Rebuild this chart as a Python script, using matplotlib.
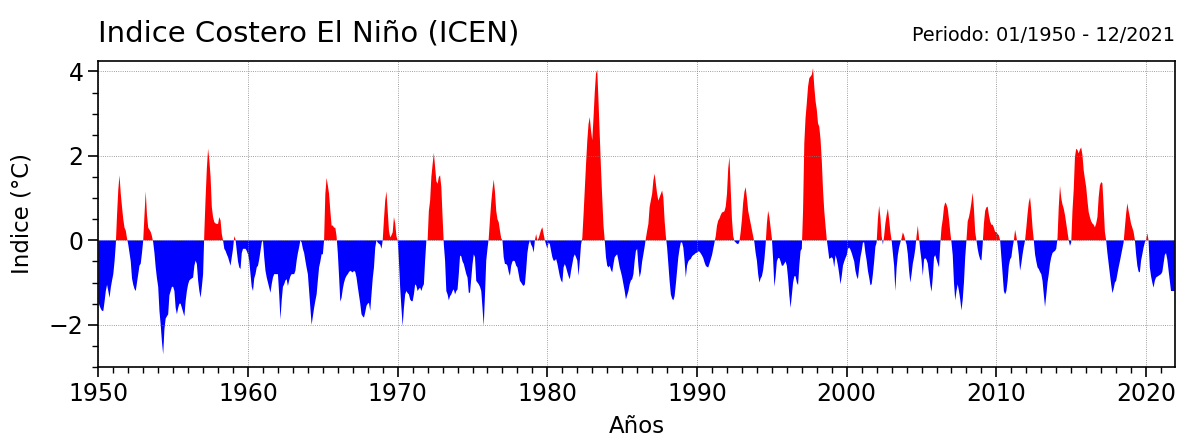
import numpy as np
import matplotlib
matplotlib.use('Agg')
import matplotlib.pyplot as plt
from matplotlib.ticker import MultipleLocator

# ICEN monthly values (Jan..Dec), one list per decade
icen_1950s = [
    -1.45, -1.55, -1.62, -1.67, -1.67, -1.45, -1.2, -1.05, -1.2, -1.36, -1.12, -0.95,
    -0.8, -0.5, -0.1, 0.6, 1.2, 1.54, 1.1, 0.79, 0.5, 0.3, 0.23, 0.05,
    -0.1, -0.3, -0.5, -0.9, -1.05, -1.15, -1.2, -1.0, -0.8, -0.6, -0.55, -0.3,
    0.0, 0.6, 1.16, 0.6, 0.3, 0.25, 0.2, 0.1, -0.05, -0.3, -0.64, -0.9,
    -1.1, -1.67, -2.0, -2.4, -2.7, -2.1, -1.85, -1.8, -1.75, -1.3, -1.2, -1.1,
    -1.1, -1.2, -1.6, -1.75, -1.6, -1.5, -1.5, -1.6, -1.7, -1.8, -1.44, -1.2,
    -1.04, -0.95, -0.92, -0.9, -0.88, -0.6, -0.48, -0.56, -0.95, -1.2, -1.36, -1.1,
    -0.8, 0.2, 1.0, 1.7, 2.17, 1.9, 1.5, 0.79, 0.55, 0.43, 0.4, 0.39,
    0.39, 0.55, 0.47, 0.15, 0.0, -0.2, -0.25, -0.33, -0.4, -0.5, -0.6, -0.4,
    -0.2, 0.1, 0.02, -0.25, -0.5, -0.64, -0.68, -0.3, -0.2, -0.2, -0.2, -0.25,
]
icen_1960s = [
    -0.33, -0.48, -0.8, -1.1, -1.2, -0.9, -0.8, -0.64, -0.6, -0.45, -0.25, -0.05,
    0.0, -0.4, -0.72, -0.88, -1.0, -1.12, -1.24, -1.04, -0.88, -0.8, -0.8, -0.8,
    -0.8, -1.28, -1.87, -1.43, -1.1, -1.04, -0.95, -0.92, -1.08, -0.95, -0.85, -0.8,
    -0.8, -0.8, -0.72, -0.48, -0.3, -0.16, 0.0, -0.05, -0.2, -0.3, -0.48, -0.65,
    -0.8, -1.2, -1.6, -2.0, -1.8, -1.6, -1.43, -1.28, -0.95, -0.64, -0.5, -0.33,
    -0.33, 0.0, 1.1, 1.48, 1.3, 1.1, 0.7, 0.35, 0.35, 0.3, 0.3, 0.1,
    -0.3, -0.85, -1.45, -1.36, -1.15, -1.0, -0.9, -0.84, -0.8, -0.75, -0.72, -0.74,
    -0.76, -0.72, -0.75, -0.88, -1.1, -1.3, -1.5, -1.75, -1.8, -1.83, -1.7, -1.55,
    -1.5, -1.48, -1.67, -1.28, -0.9, -0.64, -0.17, 0.0, -0.05, -0.08, -0.1, -0.2,
    0.0, 0.5, 0.94, 1.16, 0.7, 0.23, 0.07, 0.12, 0.19, 0.55, 0.4, 0.1,
]
icen_1970s = [
    0.0, -0.48, -1.12, -1.6, -2.03, -1.6, -1.28, -1.2, -1.25, -1.28, -1.4, -1.44,
    -1.44, -1.28, -1.04, -1.08, -1.2, -1.15, -1.12, -1.2, -1.1, -1.04, -0.48, 0.0,
    0.0, 0.7, 0.94, 1.5, 1.8, 2.07, 1.74, 1.4, 1.34, 1.5, 1.54, 1.26,
    0.55, -0.1, -0.48, -1.2, -1.28, -1.42, -1.32, -1.28, -1.2, -1.16, -1.28, -1.2,
    -1.16, -0.8, -0.36, -0.38, -0.5, -0.56, -0.68, -0.8, -0.88, -1.24, -1.24, -0.9,
    -0.56, -0.33, -0.4, -0.96, -1.0, -1.04, -1.1, -1.2, -1.6, -2.03, -1.28, -0.48,
    -0.2, 0.05, 0.5, 0.9, 1.2, 1.44, 1.15, 0.7, 0.5, 0.43, 0.23, 0.05,
    0.0, -0.4, -0.56, -0.56, -0.6, -0.75, -0.84, -0.6, -0.5, -0.48, -0.5, -0.6,
    -0.64, -0.8, -0.96, -1.0, -1.05, -1.08, -1.04, -0.7, -0.3, -0.1, 0.0, -0.1,
    -0.16, -0.29, 0.0, 0.15, 0.0, 0.05, 0.15, 0.25, 0.31, 0.15, 0.0, -0.1,
]
icen_1980s = [
    -0.2, -0.05, -0.09, -0.25, -0.4, -0.48, -0.48, -0.44, -0.55, -0.7, -0.85, -0.95,
    -1.0, -0.64, -0.56, -0.64, -0.75, -0.85, -0.92, -0.72, -0.56, -0.4, -0.33, -0.4,
    -0.48, -0.84, -0.5, -0.1, 0.05, 0.6, 1.2, 1.8, 2.35, 2.75, 2.92, 2.6,
    2.37, 2.9, 3.5, 3.95, 4.04, 3.3, 2.5, 1.7, 1.0, 0.35, 0.0, -0.4,
    -0.6, -0.64, -0.6, -0.7, -0.76, -0.56, -0.4, -0.36, -0.33, -0.48, -0.64, -0.75,
    -0.88, -1.04, -1.2, -1.4, -1.3, -1.2, -1.04, -0.95, -0.92, -0.8, -0.48, -0.25,
    -0.2, -0.6, -0.88, -0.75, -0.5, -0.33, -0.15, 0.05, 0.23, 0.39, 0.79, 0.95,
    1.1, 1.42, 1.58, 1.34, 1.1, 0.94, 1.02, 1.1, 1.18, 1.02, 0.47, 0.1,
    -0.17, -0.56, -0.96, -1.28, -1.38, -1.42, -1.32, -1.04, -0.72, -0.4, -0.2, -0.05,
    -0.05, -0.17, -0.48, -0.88, -0.6, -0.5, -0.46, -0.44, -0.38, -0.35, -0.33, -0.3,
]
icen_1990s = [
    -0.29, -0.26, -0.27, -0.31, -0.36, -0.42, -0.52, -0.6, -0.63, -0.64, -0.55, -0.45,
    -0.35, -0.2, -0.05, 0.1, 0.35, 0.47, 0.52, 0.6, 0.66, 0.67, 0.69, 0.8,
    1.1, 1.7, 1.98, 1.2, 0.5, 0.1, -0.02, -0.05, -0.08, -0.09, -0.03, 0.2,
    0.5, 0.9, 1.15, 1.26, 1.0, 0.7, 0.55, 0.4, 0.25, 0.1, -0.05, -0.3,
    -0.48, -0.8, -1.0, -0.9, -0.85, -0.7, -0.45, -0.1, 0.4, 0.7, 0.55, 0.3,
    0.05, -0.45, -1.1, -0.85, -0.5, -0.42, -0.42, -0.5, -0.6, -0.6, -0.55, -0.5,
    -0.6, -0.9, -1.3, -1.6, -1.3, -1.0, -0.85, -0.85, -1.0, -1.06, -0.6, -0.25,
    -0.2, 0.7, 2.3, 2.9, 3.25, 3.64, 3.84, 3.88, 3.92, 4.08, 3.64, 3.3,
    3.1, 2.77, 2.69, 2.4, 1.9, 1.2, 0.7, 0.35, 0.02, -0.2, -0.44, -0.42,
    -0.4, -0.44, -0.64, -0.35, -0.45, -0.6, -0.8, -1.04, -0.85, -0.6, -0.5, -0.42,
]
icen_2000s = [
    -0.35, -0.2, -0.17, -0.22, -0.3, -0.4, -0.5, -0.72, -0.85, -0.92, -0.64, -0.4,
    -0.25, -0.05, -0.05, -0.3, -0.48, -0.72, -0.88, -1.06, -1.04, -0.8, -0.5, -0.15,
    -0.05, 0.5, 0.82, 0.55, 0.1, -0.1, 0.1, 0.4, 0.6, 0.75, 0.5, 0.2,
    0.0, -0.3, -0.6, -1.2, -0.65, -0.35, -0.17, -0.05, 0.05, 0.19, 0.12, 0.0,
    -0.1, -0.33, -0.72, -1.0, -0.8, -0.55, -0.4, -0.2, 0.1, 0.35, 0.05, -0.25,
    -0.48, -0.84, -0.45, -0.42, -0.46, -0.55, -0.8, -1.05, -1.22, -0.88, -0.4, -0.35,
    -0.45, -0.55, -0.64, -0.1, 0.3, 0.5, 0.79, 0.9, 0.85, 0.75, 0.5, 0.2,
    -0.05, -0.35, -1.0, -1.42, -1.2, -1.04, -1.2, -1.4, -1.66, -1.4, -1.0, -0.4,
    0.0, 0.45, 0.55, 0.7, 0.9, 1.13, 0.75, 0.2, 0.0, -0.2, -0.35, -0.45,
    -0.48, -0.1, 0.4, 0.7, 0.78, 0.8, 0.6, 0.45, 0.37, 0.37, 0.3, 0.2,
]
icen_2010s = [
    0.2, 0.15, 0.12, 0.0, -0.4, -0.8, -1.2, -1.28, -1.2, -0.96, -0.6, -0.45,
    -0.4, -0.17, 0.0, 0.25, 0.1, -0.1, -0.35, -0.72, -0.55, -0.33, -0.15, 0.0,
    0.3, 0.63, 0.9, 1.02, 0.7, 0.3, 0.0, -0.33, -0.5, -0.64, -0.68, -0.75,
    -0.8, -0.96, -1.28, -1.58, -1.3, -1.0, -0.8, -0.55, -0.4, -0.3, -0.27, -0.25,
    -0.2, 0.05, 0.79, 1.29, 1.0, 0.85, 0.75, 0.6, 0.4, 0.2, 0.0, -0.13,
    -0.05, 0.7, 1.2, 1.98, 2.17, 2.14, 2.06, 2.15, 2.2, 2.02, 1.66, 1.45,
    1.26, 0.94, 0.67, 0.55, 0.45, 0.4, 0.37, 0.31, 0.4, 0.55, 1.02, 1.3,
    1.38, 1.35, 0.8, 0.2, 0.0, -0.3, -0.55, -0.8, -1.04, -1.25, -1.15, -1.0,
    -0.96, -0.8, -0.64, -0.5, -0.35, -0.2, -0.05, 0.3, 0.63, 0.88, 0.7, 0.55,
    0.39, 0.3, 0.2, 0.02, -0.33, -0.6, -0.74, -0.76, -0.48, -0.33, -0.17, -0.05,
]
icen_2020s = [
    0.02, 0.17, 0.0, -0.64, -0.85, -1.0, -1.12, -0.96, -0.88, -0.86, -0.84, -0.82,
    -0.8, -0.75, -0.55, -0.35, -0.3, -0.45, -0.7, -0.95, -1.2, -1.2, -1.2, -1.2,
]

icen = np.array(icen_1950s + icen_1960s + icen_1970s + icen_1980s
                + icen_1990s + icen_2000s + icen_2010s + icen_2020s)
t = 1950 + np.arange(len(icen)) / 12.0

fig = plt.figure(figsize=(11.79, 4.38), dpi=100)
ax = fig.add_axes([0.0834, 0.162, 0.913, 0.699])

ax.fill_between(t, icen, 0, where=icen >= 0, interpolate=True, color='red', lw=0)
ax.fill_between(t, icen, 0, where=icen <= 0, interpolate=True, color='blue', lw=0)

ax.set_xlim(1950, t[-1])
ax.set_ylim(-3, 4.25)
ax.xaxis.set_major_locator(MultipleLocator(10))
ax.xaxis.set_minor_locator(MultipleLocator(1))
ax.yaxis.set_major_locator(MultipleLocator(2))
ax.yaxis.set_minor_locator(MultipleLocator(0.5))
ax.grid(True, which='major', ls=':', color='gray', lw=0.6)

ax.tick_params(which='major', labelsize=17, length=7, width=1.2)
ax.tick_params(which='minor', length=4, width=1.0)
for s in ax.spines.values():
    s.set_linewidth(1.2)

ax.set_xlabel('Años', fontsize=16.5, labelpad=7)
ax.set_ylabel('Indice (°C)', fontsize=16.5, labelpad=11)
ax.set_title('Indice Costero El Niño (ICEN)', loc='left', fontsize=21, pad=15)
ax.set_title('Periodo: 01/1950 - 12/2021', loc='right', fontsize=13.9, pad=14)

plt.savefig('out.png', dpi=100)
